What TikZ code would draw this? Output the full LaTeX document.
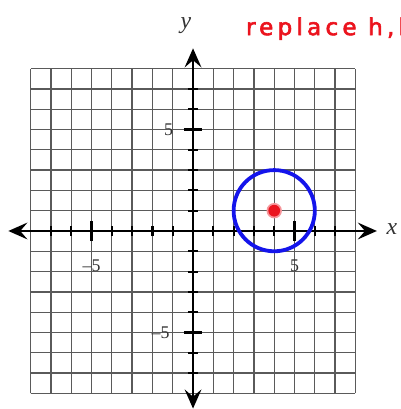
\documentclass[tikz,border=0pt]{standalone}
\usepackage{fontspec}
\setmainfont{Liberation Serif}
\newfontfamily\handfont[LetterSpace=18, FakeBold=2.5]{DejaVu Sans}
\usetikzlibrary{arrows.meta}
\definecolor{plotgrid}{RGB}{90,90,90}
\definecolor{plotblue}{RGB}{20,20,235}
\definecolor{plotred}{RGB}{235,20,30}

\begin{document}
\begin{tikzpicture}[
    x=0.6cm, y=0.6cm,
    gridline/.style={draw=plotgrid, line width=1.1pt},
    axis/.style={{Stealth[length=16pt, width=14pt, inset=6pt]}-{Stealth[length=16pt, width=14pt, inset=6pt]}, line width=2.4pt},
    axtick/.style={line width=1.8pt},
    numlbl/.style={font=\fontsize{15}{17}\selectfont, text=black!80},
    axlbl/.style={font=\fontsize{20}{22}\selectfont\itshape, text=black!80},
    notelbl/.style={font=\handfont\fontsize{19.5}{21}\selectfont, text=plotred, anchor=base west},
    ring/.style={draw=plotblue, line width=3.2pt}
]
\useasboundingbox (-9.51,-8.77) rectangle (10.2,11.38);

% === Cuadricula ===
\draw[gridline, step=1] (-8,-8) grid (8,8);

% === Ejes ===
\coordinate (xleft) at (-9.1,0);
\coordinate (xright) at (9.06,0);
\coordinate (ybot) at (0,-8.75);
\coordinate (ytop) at (0,9.0);
\draw[axis] (xleft) -- (xright);
\draw[axis] (ybot) -- (ytop);

% === Marcas ===
\foreach \k in {-7,...,7} {
    \draw[axtick] (\k,-0.25) -- (\k,0.25);
    \draw[axtick] (-0.25,\k) -- (0.25,\k);
}
\foreach \k in {-5,5} {
    \draw[axtick] (\k,-0.5) -- (\k,0.5);
    \draw[axtick] (-0.45,\k) -- (0.45,\k);
}

% === Etiquetas ===
\node[axlbl] (ylbl) at (-0.35,10.1) {y};
\node[axlbl] (xlbl) at (9.8,0.1) {x};
\node[numlbl] (yfive) at (-1.2,5) {5};
\node[numlbl] (yneg) at (-1.6,-5) {–5};
\node[numlbl] (xneg) at (-5,-1.7) {–5};
\node[numlbl] (xfive) at (5,-1.7) {5};

% === Circulo con centro (h,k) ===
\coordinate (ctr) at (4,1);
\draw[ring] (ctr) circle[radius=2];
\fill[plotred!45] (ctr) circle[radius=0.38];
\fill[plotred] (ctr) circle[radius=0.29];

% === Nota ===
\node[notelbl] (note) at (2.4,9.65) {replace h,k};

\end{tikzpicture}
\end{document}
